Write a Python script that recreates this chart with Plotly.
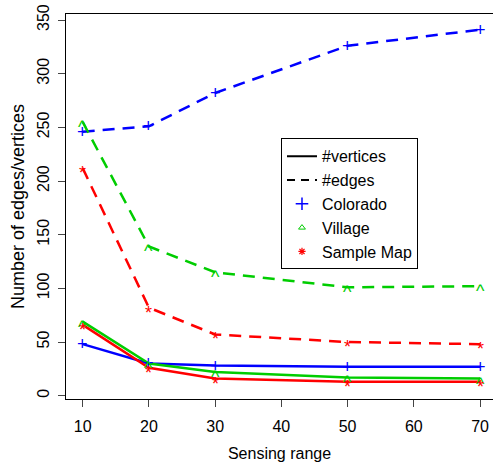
import plotly.graph_objects as go

sensing_range = [10, 20, 30, 50, 70]

colorado_edges = [246, 251, 282, 326, 341]
village_edges = [255, 139, 115, 101, 102]
sample_edges = [212, 82, 57, 50, 48]

colorado_vertices = [48, 30, 28, 27, 27]
village_vertices = [69, 30, 22, 17, 16]
sample_vertices = [66, 26, 16, 13, 13]

y_ticks = [0, 50, 100, 150, 200, 250, 300, 350]
x_ticks = [10, 20, 30, 40, 50, 60, 70]

BLUE = "#0000FF"
GREEN = "#00CD00"
RED = "#FF0000"
FONT = "Liberation Sans, Arial, sans-serif"

# name, colour, point character, char size, vertical shift of char
series = [
    ("Colorado", BLUE, "+", 18, 0, colorado_vertices, colorado_edges),
    ("Village", GREEN, "^", 18, -5, village_vertices, village_edges),
    ("Sample Map", RED, "*", 18, -5, sample_vertices, sample_edges),
]

fig = go.Figure()
annotations = []

for name, color, ch, sz, shift, verts, edges in series:
    fig.add_trace(go.Scatter(x=sensing_range, y=verts, mode="lines",
                             line=dict(color=color, width=2.5),
                             showlegend=False, hoverinfo="skip"))
    fig.add_trace(go.Scatter(x=sensing_range, y=edges, mode="lines",
                             line=dict(color=color, width=2.5, dash="12px,8px"),
                             showlegend=False, hoverinfo="skip"))
    for vals in (verts, edges):
        for xv, yv in zip(sensing_range, vals):
            annotations.append(dict(x=xv, y=yv, xref="x", yref="y", text=ch,
                                    showarrow=False, xanchor="center", yanchor="middle",
                                    yshift=shift,
                                    font=dict(color=color, size=sz, family=FONT)))

# legend entries
fig.add_trace(go.Scatter(x=[None], y=[None], mode="lines", name="#vertices",
                         line=dict(color="black", width=2)))
fig.add_trace(go.Scatter(x=[None], y=[None], mode="lines", name="#edges",
                         line=dict(color="black", width=2, dash="8px,6px")))
fig.add_trace(go.Scatter(x=[None], y=[None], mode="markers", name="Colorado",
                         marker=dict(symbol="cross-thin-open", size=9, color=BLUE,
                                     line=dict(color=BLUE, width=1.5))))
fig.add_trace(go.Scatter(x=[None], y=[None], mode="markers", name="Village",
                         marker=dict(symbol="triangle-up-open", size=6, color=GREEN,
                                     line=dict(color=GREEN, width=1))))
fig.add_trace(go.Scatter(x=[None], y=[None], mode="markers", name="Sample Map",
                         marker=dict(symbol="asterisk-open", size=6, color=RED,
                                     line=dict(color=RED, width=1.2))))

fig.update_layout(
    width=493, height=462,
    margin=dict(l=66, r=0, t=14, b=63),
    paper_bgcolor="white", plot_bgcolor="white",
    font=dict(family=FONT, size=16, color="black"),
    showlegend=True,
    annotations=annotations,
    legend=dict(x=0.5035, y=0.507, xanchor="left", yanchor="middle",
                bordercolor="black", borderwidth=1, bgcolor="white",
                font=dict(size=16), tracegroupgap=0, itemwidth=30),
    xaxis=dict(range=[7.48, 71.96], tickvals=x_ticks, ticks="outside", ticklen=7,
               ticklabelstandoff=6,
               showline=True, linecolor="black", linewidth=1, mirror=True,
               showgrid=False, zeroline=False, tickfont=dict(size=16),
               title=dict(text="Sensing range", font=dict(size=16), standoff=14)),
    yaxis=dict(range=[-3.1, 355.6], tickvals=y_ticks, ticks="outside", ticklen=7,
               tickangle=-90, ticklabelstandoff=3,
               showline=True, linecolor="black", linewidth=1, mirror=True,
               showgrid=False, zeroline=False, tickfont=dict(size=16),
               title=dict(text="Number of edges/vertices", font=dict(size=18), standoff=5)),
)

fig.write_html("out.html", config={"displayModeBar": False},
               post_script="document.body.style.margin='0';")
